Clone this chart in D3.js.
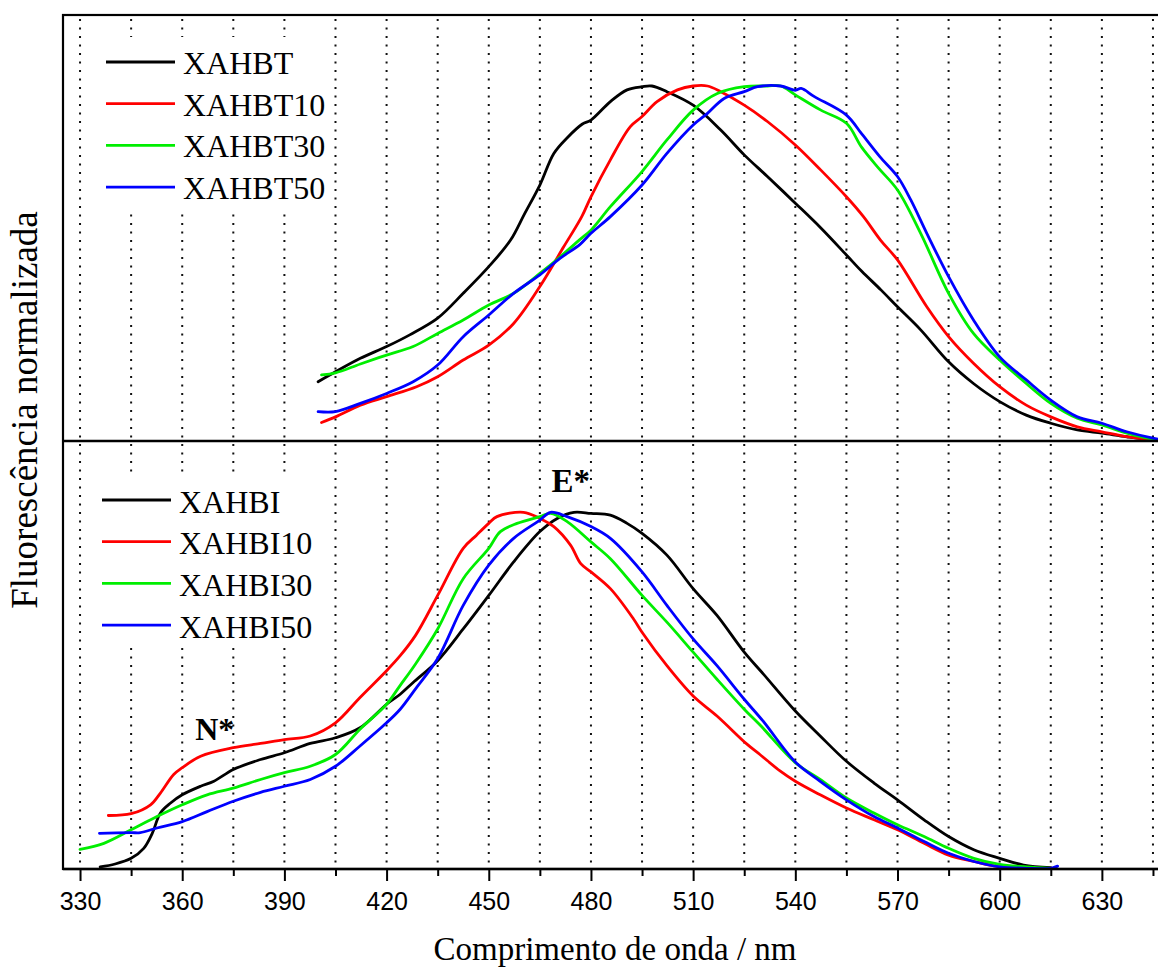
<!DOCTYPE html>
<html>
<head>
<meta charset="utf-8">
<script src="https://cdn.jsdelivr.net/npm/d3@7"></script>
<style>
  html, body { margin: 0; padding: 0; background: #fff; }
  svg { display: block; }
</style>
</head>
<body>
<svg id="chart" width="1158" height="969"></svg>
<script>
// ---------- DATA (wavelength nm, normalized fluorescence) ----------
const majorTicks = [330, 360, 390, 420, 450, 480, 510, 540, 570, 600, 630];
const minorTicks = [345, 375, 405, 435, 465, 495, 525, 555, 585, 615, 645];
const gridLines = [330, 345, 360, 375, 390, 405, 420, 435, 450, 465, 480, 495, 510, 525, 540, 555, 570, 585, 600, 615, 630, 645];

const topNames = ["XAHBT", "XAHBT10", "XAHBT30", "XAHBT50"];
const bottomNames = ["XAHBI", "XAHBI10", "XAHBI30", "XAHBI50"];
const seriesColors = ["#000000", "#ff0000", "#00ee00", "#0000ff"];

const XAHBT = [[399.9,0.167],[405,0.195],[412.3,0.233],[420,0.266],[426.8,0.299],[435,0.346],[442.5,0.416],[450,0.491],[456.4,0.566],[460.5,0.64],[465,0.721],[469.1,0.810],[472.9,0.853],[477.5,0.893],[480,0.904],[485.7,0.956],[490.6,0.989],[495,0.998],[497.9,1.0],[502.3,0.984],[510,0.946],[518.1,0.876],[525,0.806],[531.8,0.745],[540,0.670],[547.5,0.600],[555,0.524],[559.5,0.478],[565.2,0.425],[570,0.378],[576.8,0.313],[585,0.223],[592.3,0.162],[600,0.111],[607.8,0.073],[615,0.050],[622.8,0.031],[630,0.022],[637.3,0.012],[645,0.003],[650,0.0]];
const XAHBT10 = [[400.9,0.052],[405,0.068],[412.3,0.101],[420,0.125],[428.8,0.153],[435,0.181],[442.5,0.228],[450,0.270],[457.3,0.331],[465,0.435],[472,0.547],[477.3,0.632],[480,0.688],[485.7,0.792],[491.5,0.885],[495,0.914],[499.4,0.956],[505.4,0.989],[510,1.0],[514.2,1.0],[518.1,0.984],[525,0.946],[531.8,0.900],[540,0.834],[547.5,0.763],[555,0.688],[560,0.632],[565,0.566],[570,0.510],[578.6,0.378],[585,0.294],[592.3,0.219],[600,0.153],[607.8,0.101],[615,0.068],[622.8,0.040],[630,0.026],[637.3,0.012],[645,0.003],[650,0.0]];
const XAHBT30 = [[400.9,0.186],[405,0.192],[412.3,0.217],[420,0.242],[427.8,0.266],[435,0.303],[442.5,0.341],[450,0.383],[457.3,0.416],[465,0.472],[471,0.519],[476.8,0.568],[480,0.594],[485.7,0.660],[495,0.759],[502.3,0.848],[510,0.932],[517.1,0.979],[525,0.998],[531.8,1.0],[535.7,1.0],[540,0.975],[547.5,0.932],[555,0.895],[559.5,0.827],[564.5,0.768],[570,0.707],[576.8,0.585],[585,0.416],[592.3,0.303],[600,0.228],[607.8,0.162],[615,0.106],[622.8,0.064],[630,0.045],[637.3,0.022],[645,0.005],[650,0.0]];
const XAHBT50 = [[399.9,0.083],[405,0.083],[412.3,0.106],[420,0.134],[427.8,0.167],[435,0.214],[442.5,0.294],[450,0.355],[457.3,0.416],[465,0.468],[471,0.515],[476.8,0.554],[480,0.585],[485.7,0.632],[495,0.721],[502.3,0.810],[510,0.890],[514.2,0.923],[519.1,0.965],[525,0.984],[528.9,0.998],[535.7,1.0],[540,0.988],[541.7,0.993],[545.6,0.970],[555,0.918],[559.5,0.865],[564.8,0.801],[570,0.745],[573.9,0.679],[578.6,0.585],[585,0.463],[592.3,0.341],[600,0.237],[607.8,0.172],[615,0.115],[622.8,0.068],[630,0.050],[637.3,0.026],[645,0.008],[650,0.0]];

const XAHBI = [[335.9,0.006],[340.3,0.014],[345,0.030],[348.7,0.058],[351.2,0.100],[353.6,0.157],[356.6,0.185],[360,0.208],[365.4,0.232],[369.3,0.246],[375,0.279],[383,0.307],[390,0.326],[397.6,0.352],[405,0.368],[412.2,0.396],[420,0.462],[424,0.490],[427.8,0.523],[435,0.584],[442.5,0.673],[450,0.767],[457.3,0.861],[465,0.946],[470.1,0.983],[475,1.0],[480,0.997],[485.7,0.992],[490.6,0.969],[495,0.941],[502.3,0.880],[510,0.786],[517,0.711],[525,0.608],[530.5,0.548],[540,0.443],[547.3,0.373],[555,0.302],[563.1,0.241],[570,0.194],[577.8,0.138],[585,0.091],[592.4,0.054],[600,0.030],[607,0.011],[615,0.004]];
const XAHBI10 = [[338.3,0.150],[345,0.155],[350.7,0.180],[353.6,0.213],[357.5,0.265],[360,0.284],[365.4,0.316],[375,0.340],[383,0.352],[390,0.363],[397.6,0.373],[405,0.410],[412.2,0.481],[420,0.556],[424,0.598],[428.5,0.655],[435,0.767],[442.5,0.899],[446.4,0.936],[450,0.969],[452.4,0.988],[460.2,1.0],[465,0.983],[469.1,0.960],[474,0.908],[477,0.856],[480,0.833],[485.7,0.786],[492.5,0.701],[495,0.664],[502.3,0.570],[510,0.485],[517,0.429],[525.8,0.350],[529.6,0.321],[535.5,0.275],[540,0.246],[547.3,0.208],[555,0.171],[563.1,0.138],[570,0.110],[577.8,0.072],[585,0.039],[592.4,0.021],[600,0.006],[615,0.002]];
const XAHBI30 = [[330,0.055],[337,0.072],[345,0.110],[352.6,0.147],[360,0.180],[367.3,0.208],[375,0.227],[383,0.251],[390,0.270],[397.6,0.288],[405,0.321],[412.2,0.392],[420,0.462],[424,0.515],[428.5,0.575],[435,0.673],[442.5,0.814],[450,0.899],[453.4,0.946],[458.3,0.969],[465,0.988],[468.1,0.997],[473,0.974],[480,0.917],[485.7,0.870],[495,0.767],[502.3,0.692],[510,0.608],[517,0.532],[525,0.448],[530,0.400],[540,0.298],[547.3,0.251],[555,0.199],[563.1,0.157],[570,0.124],[577.8,0.091],[585,0.058],[592.4,0.030],[600,0.013],[608,0.006],[615,0.002]];
const XAHBI50 = [[335.7,0.100],[345,0.102],[347.7,0.102],[352.6,0.115],[360,0.133],[367.3,0.161],[375,0.190],[383,0.215],[390,0.232],[397.6,0.251],[405,0.288],[412.2,0.345],[420,0.410],[424,0.448],[428.5,0.505],[435,0.590],[442.5,0.739],[450,0.852],[457.3,0.927],[465,0.978],[468.1,1.0],[473,0.988],[480,0.960],[485.7,0.927],[495,0.833],[502.3,0.739],[510,0.645],[517,0.570],[525,0.476],[530.5,0.415],[540,0.300],[547.3,0.246],[555,0.194],[563.1,0.147],[570,0.115],[577.8,0.077],[585,0.044],[592.4,0.021],[600,0.006],[608,0.002],[615,0.002],[617,0.008]];

const topSeries = [XAHBT, XAHBT10, XAHBT30, XAHBT50];
const bottomSeries = [XAHBI, XAHBI10, XAHBI30, XAHBI50];

// ---------- LAYOUT ----------
const svg = d3.select("#chart");
const W = 1158, H = 969;
const plotL = 63, plotR = 1170, plotT = 15, plotM = 441, plotB = 869;

const x = d3.scaleLinear().domain([325, 650]).range([plotL, plotR]);
const yTop = d3.scaleLinear().domain([0, 1.2]).range([plotM, plotT]);
const yBot = d3.scaleLinear().domain([0, 1.2]).range([plotB, plotM]);

svg.append("rect").attr("width", W).attr("height", H).attr("fill", "#fff");

svg.append("defs").append("clipPath").attr("id", "plotclip")
  .append("rect").attr("x", plotL).attr("y", plotT).attr("width", plotR - plotL).attr("height", plotB - plotT);

// dotted vertical grid
svg.append("g").selectAll("line").data(gridLines).join("line")
  .attr("x1", d => x(d)).attr("x2", d => x(d))
  .attr("y1", plotT + 4).attr("y2", plotB)
  .attr("stroke", "#111").attr("stroke-width", 2)
  .attr("stroke-dasharray", "2,6.5");

// legend backgrounds (cover grid)
svg.append("rect").attr("x", 86).attr("y", 37).attr("width", 244).attr("height", 173).attr("fill", "#fff");
svg.append("rect").attr("x", 86).attr("y", 477).attr("width", 244).attr("height", 171).attr("fill", "#fff");

// curves
const plot = svg.append("g").attr("clip-path", "url(#plotclip)");
function drawSeries(series, yScale) {
  const line = d3.line().x(d => x(d[0])).y(d => yScale(d[1])).curve(d3.curveCatmullRom.alpha(0.5));
  series.forEach((s, i) => {
    plot.append("path").datum(s)
      .attr("d", line)
      .attr("fill", "none")
      .attr("stroke", seriesColors[i])
      .attr("stroke-width", 2.8)
      .attr("stroke-linejoin", "round")
      .attr("stroke-linecap", "round");
  });
}
drawSeries(bottomSeries, yBot);
drawSeries(topSeries, yTop);

// frame
svg.append("rect").attr("x", plotL).attr("y", plotT).attr("width", plotR - plotL).attr("height", plotB - plotT)
  .attr("fill", "none").attr("stroke", "#000").attr("stroke-width", 2.2);
svg.append("line").attr("x1", plotL).attr("x2", plotR).attr("y1", plotM).attr("y2", plotM)
  .attr("stroke", "#000").attr("stroke-width", 2.6);
svg.append("line").attr("x1", plotL).attr("x2", plotR).attr("y1", plotB).attr("y2", plotB)
  .attr("stroke", "#000").attr("stroke-width", 2.6);

// x axis
const axMajor = d3.axisBottom(x).tickValues(majorTicks).tickSize(12).tickPadding(11).tickFormat(d3.format("d"));
const gMaj = svg.append("g").attr("transform", `translate(0,${plotB})`).call(axMajor);
gMaj.select(".domain").remove();
gMaj.selectAll(".tick line").attr("stroke", "#000").attr("stroke-width", 2);
gMaj.selectAll(".tick text").attr("fill", "#000")
  .style("font-family", "'Liberation Sans', Arial, sans-serif").style("font-size", "25px");

const axMinor = d3.axisBottom(x).tickValues(minorTicks).tickSize(7).tickFormat("");
const gMin = svg.append("g").attr("transform", `translate(0,${plotB})`).call(axMinor);
gMin.select(".domain").remove();
gMin.selectAll(".tick line").attr("stroke", "#000").attr("stroke-width", 2);

// axis titles
const serif = "'Liberation Serif', 'Times New Roman', serif";
svg.append("text").attr("x", 615).attr("y", 960).attr("text-anchor", "middle")
  .style("font-family", serif).style("font-size", "33px").attr("fill", "#000")
  .text("Comprimento de onda / nm");
svg.append("text").attr("transform", "translate(37,410) rotate(-90)").attr("text-anchor", "middle")
  .style("font-family", serif).style("font-size", "37px").attr("fill", "#000")
  .text("Fluorescência normalizada");

// legends
function legend(names, y0, lx1, lx2, tx, dyText) {
  const g = svg.append("g");
  names.forEach((n, i) => {
    const yy = y0 + i * 41.7;
    g.append("line").attr("x1", lx1).attr("x2", lx2).attr("y1", yy).attr("y2", yy)
      .attr("stroke", seriesColors[i]).attr("stroke-width", 2.8);
    g.append("text").attr("x", tx).attr("y", yy + dyText)
      .style("font-family", serif).style("font-size", "32px").attr("fill", "#000").text(n);
  });
}
legend(topNames, 62, 106, 175, 183, 11.8);
legend(bottomNames, 500, 102, 171, 179, 12.5);

// annotations
svg.append("text").attr("x", x(468.4)).attr("y", 492).style("font-family", serif)
  .style("font-size", "33px").style("font-weight", "bold").attr("fill", "#000").text("E*");
svg.append("text").attr("x", x(363.8)).attr("y", 740).style("font-family", serif)
  .style("font-size", "32px").style("font-weight", "bold").attr("fill", "#000").text("N*");
</script>
</body>
</html>
